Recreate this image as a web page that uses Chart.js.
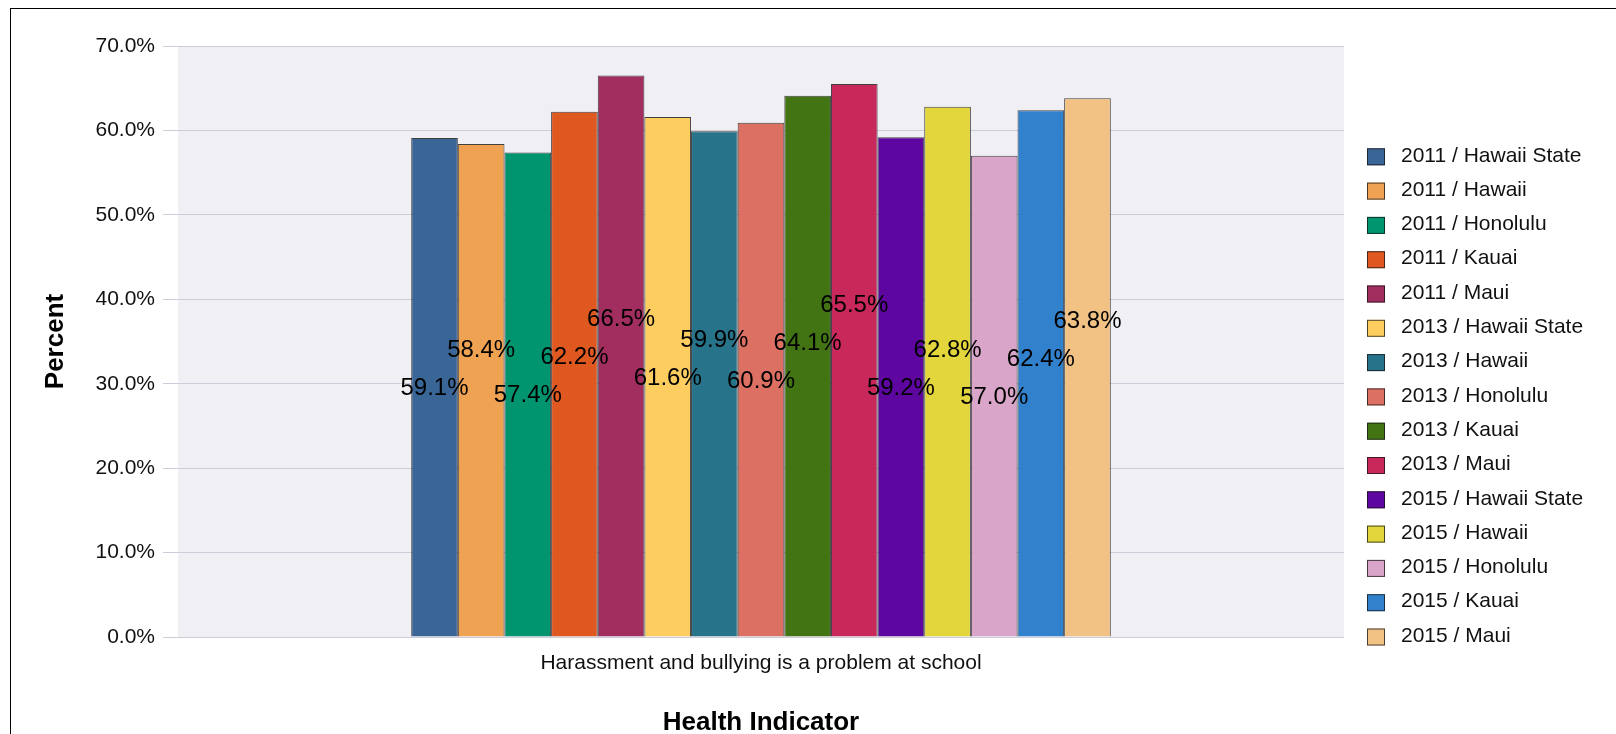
<!DOCTYPE html>
<html>
<head>
<meta charset="utf-8">
<script src="https://cdn.jsdelivr.net/npm/chart.js@4.4.1/dist/chart.umd.min.js"></script>
<style>
html, body { margin:0; padding:0; overflow:hidden; background:#fff; }
#frame { position:absolute; left:10px; top:8px; width:1700px; height:800px; border:1px solid #000; }
#wrap { position:absolute; left:0; top:0; width:1616px; height:760px; }
</style>
</head>
<body>
<div id="frame"></div>
<div id="wrap"><canvas id="chart"></canvas></div>
<script>
/* data */
var categories = ["Harassment and bullying is a problem at school"];

var seriesNames = [
"2011 / Hawaii State",
"2011 / Hawaii",
"2011 / Honolulu",
"2011 / Kauai",
"2011 / Maui",
"2013 / Hawaii State",
"2013 / Hawaii",
"2013 / Honolulu",
"2013 / Kauai",
"2013 / Maui",
"2015 / Hawaii State",
"2015 / Hawaii",
"2015 / Honolulu",
"2015 / Kauai",
"2015 / Maui"
];

var seriesValues = [59.1, 58.4, 57.4, 62.2, 66.5, 61.6, 59.9, 60.9, 64.1, 65.5, 59.2, 62.8, 57.0, 62.4, 63.8];

var seriesColors = [
"#3a6597", "#f0a253", "#00956f", "#df5820", "#a22d5f",
"#fecd60", "#27738a", "#dc7062", "#437413", "#c8285a",
"#5e07a0", "#e2d63c", "#d9a6c9", "#3281cc", "#f2c285"
];

var yTicks = [0, 10, 20, 30, 40, 50, 60, 70];

var FONT = "'Liberation Sans', Arial, sans-serif";
Chart.defaults.font.family = FONT;
Chart.defaults.color = "#111";

/* plot background */
var plotBackground = {
id: "plotBackground",
beforeDraw: function(chart){
var a = chart.chartArea, ctx = chart.ctx;
ctx.save();
ctx.fillStyle = "#efeff4";
ctx.fillRect(a.left, a.top, a.right - a.left, a.bottom - a.top);
ctx.restore();
}
};

/* value labels at bar middle, pushed up when they collide with the previous one */
var valueLabels = {
id: "valueLabels",
afterDatasetsDraw: function(chart){
var ctx = chart.ctx, yScale = chart.scales.y, step = 38, prevY = null;
ctx.save();
ctx.font = "24px " + FONT;
ctx.fillStyle = "#000";
ctx.textAlign = "center";
ctx.textBaseline = "middle";
chart.data.datasets.forEach(function(ds, i){
var bar = chart.getDatasetMeta(i).data[0];
var y = yScale.getPixelForValue(ds.data[0] / 2);
if(prevY !== null && Math.abs(prevY - y) < step){
y = prevY - step;
}
ctx.fillText(ds.data[0].toFixed(1) + "%", bar.x, y + 1);
prevY = y;
});
ctx.restore();
}
};

/* legend on the right, bottom aligned with the plot */
var sideLegend = {
id: "sideLegend",
afterDraw: function(chart){
var ctx = chart.ctx, a = chart.chartArea;
var ds = chart.data.datasets, n = ds.length, rowStep = 34.3;
var x0 = a.right + 23;
ctx.save();
ctx.font = "21px " + FONT;
ctx.textBaseline = "middle";
ctx.textAlign = "left";
for(var i=0;i<n;i++){
var cy = a.bottom - (n - 1 - i) * rowStep;
ctx.fillStyle = ds[i].backgroundColor;
ctx.fillRect(x0, cy - 8.5, 18, 17);
ctx.strokeStyle = "rgba(20,20,20,0.75)";
ctx.lineWidth = 1;
ctx.strokeRect(x0 + 0.5, cy - 8, 17, 16);
ctx.fillStyle = "#111";
ctx.fillText(ds[i].label, x0 + 34, cy - 1);
}
ctx.restore();
}
};

var datasets = [];
for(var i=0;i<seriesNames.length;i++){
datasets.push({
label: seriesNames[i],
data: [seriesValues[i]],
backgroundColor: seriesColors[i],
borderColor: "rgba(20,20,20,0.8)",
borderWidth: 1,
categoryPercentage: 0.6,
barPercentage: 1.0
});
}

new Chart(document.getElementById("chart").getContext("2d"), {
type: "bar",
data: { labels: categories, datasets: datasets },
options: {
responsive: true,
maintainAspectRatio: false,
animation: false,
layout: { padding: { top: 46, right: 272, bottom: 0, left: 0 } },
plugins: {
legend: { display: false },
tooltip: { enabled: false }
},
scales: {
x: {
grid: { display: false, drawTicks: false },
border: { display: false },
ticks: { padding: 14, font: { size: 21 }, color: "#111" },
title: { display: true, text: "Health Indicator", color: "#000",
font: { size: 26, weight: "bold" }, padding: { top: 0, bottom: 22 } },
afterFit: function(s){ s.height = 123; }
},
y: {
min: yTicks[0],
max: yTicks[yTicks.length - 1],
afterBuildTicks: function(s){
s.ticks = yTicks.map(function(v){ return { value: v }; });
},
grid: { color: "#cdcdd9", tickLength: 15, drawTicks: true },
border: { display: false },
ticks: { padding: 8, font: { size: 21 }, color: "#111",
callback: function(v){ return Number(v).toFixed(1) + "%"; } },
title: { display: true, text: "Percent", color: "#000",
font: { size: 26, weight: "bold" }, padding: { top: 40, bottom: 0 } },
afterFit: function(s){ s.width = 178; }
}
}
},
plugins: [plotBackground, valueLabels, sideLegend]
});
</script>
</body>
</html>
